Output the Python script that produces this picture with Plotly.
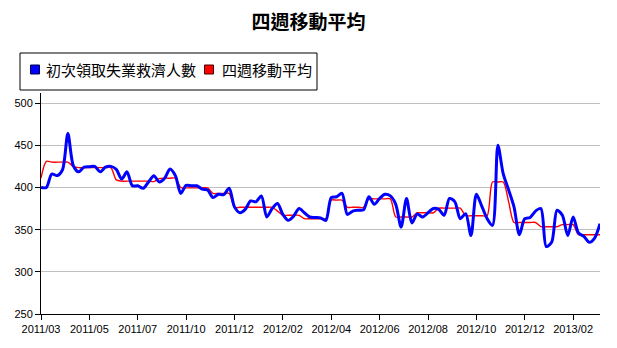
import pandas as pd
import plotly.graph_objects as go

# Weekly series, first week ending 2011-03-26
start_week = "2011-03-26"

# 初次領取失業救濟人數 (thousands)
initial_claims = [
    400, 400, 416, 414, 421, 464, 426, 418.5, 424, 424.5,
    425, 418.5, 424, 425, 421.5, 410, 418.5, 402, 402, 399,
    406.5, 414, 406.5, 411, 422, 414, 393, 402.5, 402, 402,
    398, 397, 388, 392, 391.5, 399, 377, 370, 374, 384,
    383, 390, 365, 375, 381, 368, 361, 366, 375, 370,
    365, 364.5, 364, 361, 388, 389, 393, 368, 372, 373,
    373.5, 389, 380, 387, 392, 390, 380, 353, 387, 358,
    368.6, 365, 370, 375, 374, 367, 387, 383, 363, 369,
    343, 392, 378, 363, 355, 450, 416, 397, 377, 344,
    363, 364.5, 372, 375, 330, 335, 373, 367, 343, 365,
    346, 342, 335, 340, 357,
]

# 四週移動平均 (thousands)
moving_avg = [
    411, 431, 430, 430, 430, 430, 425, 423.5, 423.5, 423.5,
    423.5, 423.5, 423.5, 423.5, 409, 407.5, 407.5, 407.5, 407.5, 407.5,
    407.5, 407, 410.5, 411, 411, 411, 400, 399.5, 399.5, 399.5,
    399.5, 399.5, 393, 393, 393, 393, 376.5, 376.5, 376.5, 376.5,
    376.5, 376.5, 376.5, 376.5, 372, 367, 367, 367, 367, 363,
    363, 363, 363, 363, 385, 385, 385, 376.5, 376.5, 376.5,
    376.5, 386.5, 386.5, 386.5, 386.5, 386.5, 365, 365, 365, 365,
    370, 370, 370, 370, 375.5, 375.5, 375.5, 375.5, 375.5, 366.5,
    366.5, 366.5, 366.5, 366.5, 406.5, 406.5, 406.5, 383, 358.5, 358.5,
    358.5, 358.5, 358.5, 353.5, 353.5, 353.5, 353.5, 356, 356, 356,
    344, 344, 344, 344, 344,
]

weeks = pd.date_range(start_week, periods=len(initial_claims), freq="7D")

# x labels every nine weeks
tick_weeks = weeks[::9]
tick_labels = [d.strftime("%Y/%m") for d in tick_weeks]

y_ticks = [250, 300, 350, 400, 450, 500]

series_names = ["初次領取失業救濟人數", "四週移動平均"]
series_colors = ["#0000ff", "#ff0000"]
swatch_borders = ["#000044", "#440000"]

cjk_font = "Noto Sans CJK TC, Noto Sans CJK SC, sans-serif"
axis_font = dict(family="Liberation Sans, Arial, sans-serif", size=11, color="#000000")

W, H = 617, 348
M = dict(l=41, r=17, t=93, b=34)
plot_w = W - M["l"] - M["r"]
plot_h = H - M["t"] - M["b"]


def px_to_paper(px, py):
    """Convert page pixel position to paper coordinates."""
    return (px - M["l"]) / plot_w, (H - M["b"] - py) / plot_h


fig = go.Figure()

fig.add_trace(go.Scatter(
    x=weeks, y=moving_avg, mode="lines", name=series_names[1],
    line=dict(color=series_colors[1], width=1.4, shape="spline", smoothing=0.8),
    showlegend=False, hoverinfo="skip",
))
fig.add_trace(go.Scatter(
    x=weeks, y=initial_claims, mode="lines", name=series_names[0],
    line=dict(color=series_colors[0], width=3, shape="spline", smoothing=0.8),
    showlegend=False, hoverinfo="skip",
))

# Legend: framed box with square swatches above the plot
shapes = []
annotations = []
bx0, by0 = px_to_paper(20, 90)
bx1, by1 = px_to_paper(317, 53)
shapes.append(dict(type="rect", xref="paper", yref="paper",
                   x0=bx0, y0=by0, x1=bx1, y1=by1,
                   line=dict(color="#000000", width=1), fillcolor="#ffffff",
                   layer="above"))
entry_x = [35, 209]
text_x = [44, 220]
entry_y = 69.5
half = 4.5
for name, color, border, sx, tx in zip(series_names, series_colors, swatch_borders,
                                        entry_x, text_x):
    x0, y0 = px_to_paper(sx - half, entry_y + half)
    x1, y1 = px_to_paper(sx + half, entry_y - half)
    shapes.append(dict(type="rect", xref="paper", yref="paper",
                       x0=x0, y0=y0, x1=x1, y1=y1,
                       line=dict(color=border, width=1), fillcolor=color,
                       layer="above"))
    ax, ay = px_to_paper(tx, entry_y)
    annotations.append(dict(text=name, xref="paper", yref="paper", x=ax, y=ay,
                            xanchor="left", yanchor="middle", showarrow=False,
                            font=dict(family=cjk_font, size=15, color="#000000")))

fig.update_layout(
    width=W, height=H,
    margin=M,
    paper_bgcolor="#ffffff", plot_bgcolor="#ffffff",
    showlegend=False,
    title=dict(
        text="四週移動平均", x=0.5, xref="container", xanchor="center",
        y=1 - 22 / H, yref="container", yanchor="middle",
        font=dict(family=cjk_font, size=19, color="#000000", weight="bold"),
    ),
    shapes=shapes,
    annotations=annotations,
    xaxis=dict(
        range=[weeks[0], weeks[-1]],
        tickvals=list(tick_weeks), ticktext=tick_labels,
        showgrid=False, zeroline=False,
        showline=True, linecolor="#000000", linewidth=1,
        ticks="outside", ticklen=5, tickcolor="#000000",
        tickfont=axis_font,
    ),
    yaxis=dict(
        range=[250, 512], tickvals=y_ticks,
        showgrid=True, gridcolor="#c0c0c0", gridwidth=1,
        zeroline=False,
        showline=True, linecolor="#000000", linewidth=1,
        ticks="outside", ticklen=5, tickcolor="#000000",
        tickfont=axis_font,
    ),
)

fig.write_html("out.html")
